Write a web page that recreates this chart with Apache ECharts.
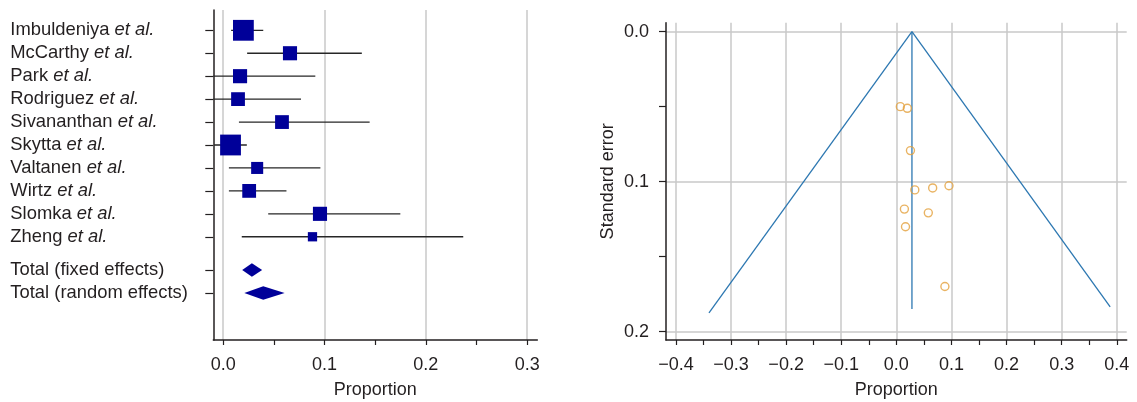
<!DOCTYPE html>
<html><head><meta charset="utf-8">
<script src="https://cdn.jsdelivr.net/npm/echarts@6/dist/echarts.min.js"></script>
<style>html,body{margin:0;padding:0;background:#fff}#c{width:1137px;height:402px}</style>
</head><body><div id="c"></div>
<script>
// ---------- data ----------
const studies = ['Imbuldeniya','McCarthy','Park','Rodriguez','Sivananthan','Skytta','Valtanen','Wirtz','Slomka','Zheng'];
const proportion = [0.0199,0.0659,0.0166,0.0146,0.058,0.0072,0.0335,0.0256,0.0955,0.0881];
const ciLow  = [0.0078,0.0236,-0.058,-0.047,0.0155,-0.009,0.0056,0.0056,0.0444,0.0183];
const ciHigh = [0.0395,0.1368,0.0909,0.0768,0.1445,0.0233,0.0959,0.0624,0.1748,0.2369];
const weightPct = [19.1,8.8,8.8,8.4,8.4,19.1,6.4,8.4,8.8,3.8];
const standardError = [0.0511,0.1042,0.1301,0.1183,0.1208,0.0500,0.1055,0.0793,0.1027,0.1699];

const totals = ['Total (fixed effects)','Total (random effects)'];
const totalEst  = [0.0283,0.0395];
const totalLow  = [0.0187,0.0208];
const totalHigh = [0.0384,0.0606];

// funnel (pseudo 95% limits) end points
const funnelApexSE = 0;
const funnelLeftEnd  = [-0.340,0.1875];
const funnelRightEnd = [0.388,0.1835];
const funnelCenterEndSE = 0.1849;

// tick values
const forestTicks = [0,0.1,0.2,0.3];
const forestMinorTicks = [0,0.05,0.1,0.15,0.2,0.25,0.3];
const funnelXTicks = [-0.4,-0.3,-0.2,-0.1,0,0.1,0.2,0.3,0.4];
const funnelXMinorTicks = [-0.4,-0.35,-0.3,-0.25,-0.2,-0.15,-0.1,-0.05,0,0.05,0.1,0.15,0.2,0.25,0.3,0.35,0.4];
const seTicks = [0,0.1,0.2];
const seMinorTicks = [0,0.05,0.1,0.15,0.2];

// ---------- styling / layout ----------
const FONT = "'Liberation Sans', Arial, Helvetica, sans-serif";
const TXT = '#231f20';
const NAVY = '#000099';
const GRIDC = '#c8c8c8';
const FX_MIN = -0.0098, FX_MAX = 0.31;
const TOTAL_GAP = 1.45;
const rowPos = studies.map((s,i)=>i+1);
const totalPos = totals.map((s,j)=>studies.length + TOTAL_GAP + j);
const allPos = rowPos.concat(totalPos);
const allLabels = studies.map(s=>'{n|'+s+' }{i|et al.}').concat(totals.map(t=>'{n|'+t+'}'));

const fmt = v => (v < -1e-9 ? '\u2212' : '') + Math.abs(v).toFixed(1);
const txt = {color:TXT, fontSize:18, fontFamily:FONT};
const rowTxt = {color:TXT, fontSize:18.4, fontFamily:FONT};

const chart = echarts.init(document.getElementById('c'), null, {renderer:'canvas'});
chart.setOption({
  animation:false,
  backgroundColor:'#fff',
  grid:[
    {left:213.3, top:10, width:324, height:330, outerBoundsMode:'none', containLabel:false},
    {left:666, top:22.7, width:460.7, height:317.3, outerBoundsMode:'none', containLabel:false}
  ],
  xAxis:[
    {type:'value', gridIndex:0, position:'bottom', min:FX_MIN, max:FX_MAX,
     axisLine:{show:true, onZero:false, lineStyle:{color:TXT, width:1.5}},
     axisTick:{show:true, customValues:forestMinorTicks, length:5, lineStyle:{color:TXT, width:1.2}},
     axisLabel:Object.assign({show:true, customValues:forestTicks, formatter:fmt, margin:16}, txt),
     splitLine:{show:false},
     name:'Proportion', nameLocation:'middle', nameGap:41, nameTextStyle:txt},
    {type:'value', gridIndex:0, position:'bottom', min:FX_MIN, max:FX_MAX,
     axisLine:{show:false, onZero:false}, axisTick:{show:false, customValues:forestTicks},
     axisLabel:{show:false}, splitLine:{show:true, lineStyle:{color:GRIDC, width:1.5}}},
    {type:'value', gridIndex:1, position:'bottom', min:-0.418, max:0.418,
     axisLine:{show:true, onZero:false, lineStyle:{color:TXT, width:1.5}},
     axisTick:{show:true, customValues:funnelXMinorTicks, length:5, lineStyle:{color:TXT, width:1.2}},
     axisLabel:Object.assign({show:true, customValues:funnelXTicks, formatter:fmt, margin:16}, txt),
     splitLine:{show:false},
     name:'Proportion', nameLocation:'middle', nameGap:41, nameTextStyle:txt},
    {type:'value', gridIndex:1, position:'bottom', min:-0.418, max:0.418,
     axisLine:{show:false, onZero:false}, axisTick:{show:false, customValues:funnelXTicks},
     axisLabel:{show:false}, splitLine:{show:true, lineStyle:{color:GRIDC, width:1.5}}}
  ],
  yAxis:[
    {type:'value', gridIndex:0, position:'left', inverse:true, min:0.115, max:14.5,
     axisLine:{show:true, onZero:false, lineStyle:{color:TXT, width:1.5}},
     axisTick:{show:true, customValues:allPos, length:8, lineStyle:{color:TXT, width:1.2}},
     axisLabel:{show:true, customValues:allPos, align:'left', margin:203,
       formatter:v=>{let k=0,b=1e9;allPos.forEach((p,i)=>{const d=Math.abs(p-v);if(d<b){b=d;k=i;}});return allLabels[k];},
       rich:{n:Object.assign({},rowTxt), i:Object.assign({fontStyle:'italic'},rowTxt)}},
     splitLine:{show:false}},
    {type:'value', gridIndex:1, position:'left', inverse:true, min:-0.006, max:0.2056,
     axisLine:{show:true, onZero:false, lineStyle:{color:TXT, width:1.5}},
     axisTick:{show:true, customValues:seMinorTicks, length:7, lineStyle:{color:TXT, width:1.2}},
     axisLabel:Object.assign({show:true, customValues:seTicks, formatter:fmt, margin:17}, txt),
     splitLine:{show:false},
     name:'Standard error', nameLocation:'middle', nameGap:49, nameTextStyle:txt},
    {type:'value', gridIndex:1, position:'left', inverse:true, min:-0.006, max:0.2056,
     axisLine:{show:false, onZero:false}, axisTick:{show:false, customValues:seTicks},
     axisLabel:{show:false}, splitLine:{show:true, lineStyle:{color:GRIDC, width:1.5}}}
  ],
  series:[
    // confidence interval lines
    {type:'custom', xAxisIndex:0, yAxisIndex:0, z:3,
     data: studies.map((s,i)=>[rowPos[i], ciLow[i], ciHigh[i]]),
     encode:{x:[1,2], y:0},
     renderItem:(params, api)=>{
       const y = api.value(0);
       const lo = Math.max(api.value(1), FX_MIN), hi = Math.min(api.value(2), FX_MAX);
       const a = api.coord([lo, y]), b = api.coord([hi, y]);
       return {type:'line', shape:{x1:a[0], y1:a[1], x2:b[0], y2:b[1]}, style:{stroke:'#262626', lineWidth:1.3}};
     }},
    // study squares
    {type:'scatter', xAxisIndex:0, yAxisIndex:0, z:4, symbol:'rect',
     data: studies.map((s,i)=>[proportion[i], rowPos[i], weightPct[i]]),
     symbolSize: d => Math.sqrt(d[2]) * 4.76,
     itemStyle:{color:NAVY, opacity:1}},
    // pooled diamonds
    {type:'custom', xAxisIndex:0, yAxisIndex:0, z:4,
     data: totals.map((t,j)=>[totalPos[j], totalLow[j], totalEst[j], totalHigh[j]]),
     encode:{x:[1,2,3], y:0},
     renderItem:(params, api)=>{
       const y = api.value(0);
       const l = api.coord([api.value(1), y]), c = api.coord([api.value(2), y]), r = api.coord([api.value(3), y]);
       const h = 6.7;
       return {type:'polygon', shape:{points:[[l[0],l[1]],[c[0],c[1]-h],[r[0],r[1]],[c[0],c[1]+h]]}, style:{fill:NAVY}};
     }},
    // funnel
    {type:'line', xAxisIndex:2, yAxisIndex:1, symbol:'none', z:3,
     data:[[totalEst[0], funnelApexSE], funnelLeftEnd],
     lineStyle:{color:'#2c77b1', width:1.3}},
    {type:'line', xAxisIndex:2, yAxisIndex:1, symbol:'none', z:3,
     data:[[totalEst[0], funnelApexSE], funnelRightEnd],
     lineStyle:{color:'#2c77b1', width:1.3}},
    {type:'line', xAxisIndex:2, yAxisIndex:1, symbol:'none', z:3,
     data:[[totalEst[0], funnelApexSE], [totalEst[0], funnelCenterEndSE]],
     lineStyle:{color:'#2c77b1', width:1.3}},
    {type:'scatter', xAxisIndex:2, yAxisIndex:1, z:4, symbol:'circle', symbolSize:8,
     data: studies.map((s,i)=>[proportion[i], standardError[i]]),
     itemStyle:{color:'rgba(255,255,255,0)', borderColor:'#e3a03c', borderWidth:1.4}}
  ]
});
</script></body></html>
